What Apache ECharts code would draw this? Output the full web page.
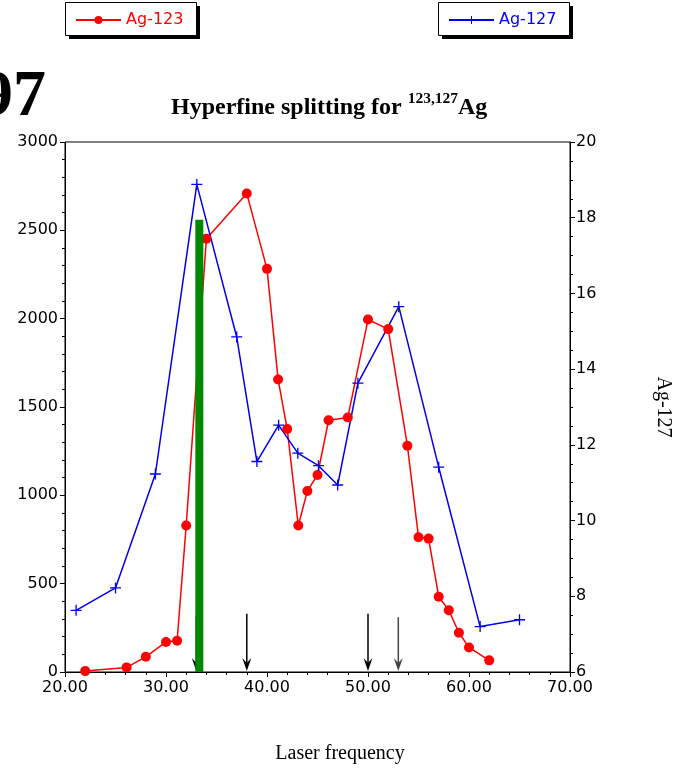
<!DOCTYPE html>
<html><head><meta charset="utf-8">
<script src="https://cdn.jsdelivr.net/npm/echarts@6/dist/echarts.min.js"></script>
<style>html,body{margin:0;padding:0;background:#fff}#c{width:677px;height:769px}</style>
</head><body><div id="c"></div>
<script>
// Ag-123 (left axis)
const ag123X = [22, 26.1, 28, 30, 31.1, 32, 34, 38, 40, 41.1, 42, 43.1, 44, 45, 46.1, 48, 50, 52, 53.9, 55, 56, 57, 58, 59, 60, 62];
const ag123Y = [5, 26, 86, 170, 177, 829, 2453, 2708, 2282, 1656, 1375, 829, 1025, 1115, 1425, 1441, 1995, 1941, 1281, 763, 755, 426, 350, 222, 139, 66];
// Ag-127 (right axis)
const ag127X = [21.1, 25, 28.95, 33.05, 37, 39, 41.15, 43.05, 45.1, 47, 49, 53.05, 57, 61.1, 65];
const ag127Y = [7.63, 8.22, 11.23, 18.88, 14.85, 11.56, 12.52, 11.78, 11.45, 10.94, 13.63, 15.65, 11.41, 7.2, 7.38];
// green marker bar
const barX = [33.3];
const barY = [2560];
// arrows (x position, top value on left axis)
const arrowX = [33, 38, 50, 53];
const arrowTop = [320, 330, 330, 310];
const arrowColors = ['#000', '#000', '#000', '#444'];

const SANS = 'DejaVu Sans';
const SERIF = 'Liberation Serif';
const PLUS = 'path://M4.4,0H5.6V4.4H10V5.6H5.6V10H4.4V5.6H0V4.4H4.4Z';

const chart = echarts.init(document.getElementById('c'), null, {renderer: 'canvas'});

const legendBase = {
  orient: 'horizontal', itemWidth: 45, itemHeight: 10,
  padding: [10, 12, 8, 10], z: 20,
  textStyle: {fontFamily: SANS, fontSize: 16}, selectedMode: false, top: 2
};

function legendBox(x) {
  return [
    {type: 'rect', z: 10, shape: {x: x + 4, y: 6, width: 131, height: 33}, style: {fill: '#000'}},
    {type: 'rect', z: 11, shape: {x: x + 0.5, y: 2.5, width: 131, height: 33}, style: {fill: '#fff', stroke: '#000', lineWidth: 1}}
  ];
}

const option = {
  animation: false,
  backgroundColor: '#fff',
  title: {
    text: '{a|Hyperfine splitting for }{s|123,127}{a|Ag}',
    left: 171, top: 91, padding: 0,
    textStyle: {
      rich: {
        a: {fontFamily: SERIF, fontWeight: 'bold', fontSize: 24, lineHeight: 29, verticalAlign: 'bottom', color: '#000'},
        s: {fontFamily: SERIF, fontWeight: 'bold', fontSize: 15.5, lineHeight: 15, verticalAlign: 'top', color: '#000'}
      }
    }
  },
  legend: [
    Object.assign({}, legendBase, {left: 65, data: [{name: 'Ag-123', textStyle: {color: '#ff0000'}}]}),
    Object.assign({}, legendBase, {left: 438, data: [{name: 'Ag-127', textStyle: {color: '#0000ee'}}]})
  ],
  grid: {left: 65, right: 107, top: 142, bottom: 97, show: true, borderColor: '#000', borderWidth: 1, containLabel: false, outerBoundsMode: 'none'},
  xAxis: {
    type: 'value', min: 20, max: 70, interval: 10,
    axisLine: {onZero: false, lineStyle: {color: '#000'}},
    axisTick: {length: 5, lineStyle: {color: '#000'}},
    minorTick: {show: true, splitNumber: 5, length: 3, lineStyle: {color: '#000'}},
    splitLine: {show: false},
    axisLabel: {formatter: v => v.toFixed(2), color: '#000', fontFamily: SANS, fontSize: 16, margin: 8}
  },
  yAxis: [
    {
      type: 'value', min: 0, max: 3000, interval: 500,
      axisLine: {show: true, onZero: false, lineStyle: {color: '#000'}},
      axisTick: {length: 5, lineStyle: {color: '#000'}},
      minorTick: {show: true, splitNumber: 5, length: 3, lineStyle: {color: '#000'}},
      splitLine: {show: false},
      axisLabel: {formatter: v => String(v), color: '#000', fontFamily: SANS, fontSize: 16, margin: 7}
    },
    {
      type: 'value', position: 'right', min: 6, max: 20, interval: 2,
      name: 'Ag-127', nameLocation: 'middle', nameRotate: -90, nameGap: 83,
      nameTextStyle: {fontFamily: SERIF, fontSize: 20, color: '#000'},
      axisLine: {show: true, onZero: false, lineStyle: {color: '#000'}},
      axisTick: {length: 5, lineStyle: {color: '#000'}},
      minorTick: {show: true, splitNumber: 4, length: 3, lineStyle: {color: '#000'}},
      splitLine: {show: false},
      axisLabel: {formatter: v => String(v), color: '#000', fontFamily: SANS, fontSize: 16, margin: 6}
    }
  ],
  graphic: [
    ...legendBox(65),
    ...legendBox(438),
    {type: 'text', x: 46, y: 131, style: {text: '97', font: 'bold 66px "Liberation Serif"', fill: '#000', textAlign: 'right', textVerticalAlign: 'bottom'}},
    {type: 'text', x: 340, y: 764, style: {text: 'Laser frequency', font: '20px "Liberation Serif"', fill: '#000', textAlign: 'center', textVerticalAlign: 'bottom'}}
  ],
  series: [
    {
      type: 'custom', name: 'arrows', yAxisIndex: 0, z: 1,
      data: arrowX.map((x, i) => [x, arrowTop[i], i]),
      encode: {x: 0, y: 1},
      renderItem: function (params, api) {
        const x = api.value(0), top = api.value(1), idx = api.value(2);
        const p0 = api.coord([x, 0]);
        const p1 = api.coord([x, top]);
        const c = arrowColors[idx];
        const tipY = p0[1] - 1;
        return {
          type: 'group',
          children: [
            {type: 'line', shape: {x1: p1[0], y1: p1[1], x2: p0[0], y2: tipY - 5}, style: {stroke: c, lineWidth: 1.5}},
            {type: 'polygon', shape: {points: [[p0[0], tipY], [p0[0] - 4.5, tipY - 13], [p0[0], tipY - 8], [p0[0] + 4.5, tipY - 13]]}, style: {fill: c}}
          ]
        };
      }
    },
    {
      type: 'line', name: 'Ag-123', yAxisIndex: 0, z: 3,
      data: ag123X.map((x, i) => [x, ag123Y[i]]),
      symbol: 'circle', symbolSize: 10, showAllSymbol: true,
      lineStyle: {color: '#ff0000', width: 1.5},
      itemStyle: {color: '#ff0000'}
    },
    {
      type: 'line', name: 'Ag-127', yAxisIndex: 1, z: 3,
      data: ag127X.map((x, i) => [x, ag127Y[i]]),
      symbol: PLUS, symbolSize: 11, showAllSymbol: true,
      lineStyle: {color: '#0000ee', width: 1.5},
      itemStyle: {color: '#0000ee'}
    },
    {
      type: 'bar', name: 'marker', yAxisIndex: 0, z: 10,
      data: barX.map((x, i) => [x, barY[i]]),
      barWidth: 8,
      itemStyle: {color: '#008800'}
    }
  ]
};
chart.setOption(option);
</script>
</body></html>
